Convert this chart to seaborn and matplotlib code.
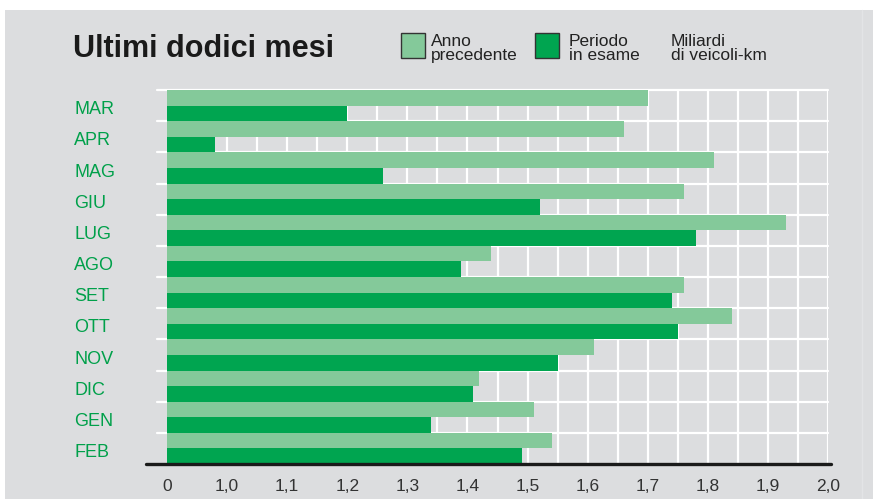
import numpy as np
import pandas as pd
import seaborn as sns
import matplotlib.pyplot as plt
from matplotlib.patches import Rectangle
from matplotlib.lines import Line2D
import matplotlib.transforms as mtransforms

# data (miliardi di veicoli-km)
months = ["MAR", "APR", "MAG", "GIU", "LUG", "AGO", "SET", "OTT", "NOV", "DIC", "GEN", "FEB"]
anno_precedente = [1.70, 1.66, 1.81, 1.76, 1.93, 1.44, 1.76, 1.84, 1.61, 1.42, 1.51, 1.54]
periodo_esame = [1.20, 0.98, 1.26, 1.52, 1.78, 1.39, 1.74, 1.75, 1.55, 1.41, 1.34, 1.49]
series_names = ["Anno precedente", "Periodo in esame"]
x_ticks = [0.9, 1.0, 1.1, 1.2, 1.3, 1.4, 1.5, 1.6, 1.7, 1.8, 1.9, 2.0]
x_labels = ["0", "1,0", "1,1", "1,2", "1,3", "1,4", "1,5", "1,6", "1,7", "1,8", "1,9", "2,0"]

light = "#84c99a"
dark = "#00a550"
bg = "#dcdddf"
month_col = "#00a04a"

df = pd.DataFrame({
    "mese": months * 2,
    "valore": anno_precedente + periodo_esame,
    "serie": [series_names[0]] * 12 + [series_names[1]] * 12,
})

sns.set_theme(style="white")
plt.rcParams["font.family"] = ["Liberation Sans", "DejaVu Sans"]

fig = plt.figure(figsize=(8.73, 4.99), dpi=100)
fig.patch.set_facecolor("white")
# grey panel behind everything (white strip at top/left like the scan)
fig.patches.append(Rectangle((5 / 873, 0), 1, 1 - 10 / 499, transform=fig.transFigure,
                             facecolor=bg, edgecolor="none", zorder=-10))
fig.add_artist(Line2D([862 / 873] * 2, [0, 1 - 10 / 499], transform=fig.transFigure,
                      color="#e3e4e6", lw=1.0))

ax = fig.add_axes([167 / 873, 1 - 464 / 499, (828 - 167) / 873, (464 - 90) / 499])
ax.set_facecolor(bg)

sns.barplot(data=df, y="mese", x="valore", hue="serie", order=months,
            hue_order=series_names, palette=[light, dark], orient="h",
            width=1.0, gap=0, saturation=1, linewidth=0, legend=False, ax=ax, zorder=2)

ax.set_xlim(0.9, 2.0)
ax.set_ylim(11.5, -0.5)

# vertical grid every 0.05
for gx in np.arange(0.95, 2.001, 0.05):
    ax.axvline(gx, color="white", lw=1.6, zorder=1)
# horizontal separators between months, with little ticks poking out left
bounds = np.arange(-0.5, 11.0, 1.0)
for by in bounds:
    ax.plot([-10 / 661, 1], [1 - (by + 0.5) / 12] * 2, transform=ax.transAxes,
            color="white", lw=1.6, clip_on=False, zorder=1)
ax.axvline(0.9, color="white", lw=1.6, zorder=1)

for s in ax.spines.values():
    s.set_visible(False)

# black baseline
ax.add_line(Line2D([-21 / 661, 1.004], [0, 0], transform=ax.transAxes, color="#1a1a1a",
                   lw=2.4, clip_on=False, zorder=5))

ax.set_xticks(x_ticks)
ax.set_xticklabels(x_labels, fontsize=12.5, color="#333333")
ax.tick_params(axis="x", length=0, pad=11)
ax.set_yticks([])
ax.set_xlabel("")
ax.set_ylabel("")

# month labels
trans = mtransforms.blended_transform_factory(fig.transFigure, ax.transData)
for i, m in enumerate(months):
    ax.text(74 / 873, i + 0.28, m, transform=trans, ha="left", va="baseline",
            fontsize=13, color=month_col)

# title and legend
fig.text(73 / 873, 1 - 57 / 499, "Ultimi dodici mesi", fontsize=22, fontweight="bold",
         color="#1a1a1a", ha="left", va="baseline")
for x0, c in [(401, light), (535, dark)]:
    fig.patches.append(Rectangle((x0 / 873, 1 - 58 / 499), 24 / 873, 25 / 499,
                                 transform=fig.transFigure, facecolor=c,
                                 edgecolor="#333333", lw=1.0))
for x0, txt in [(431, "Anno\nprecedente"), (569, "Periodo\nin esame"), (671, "Miliardi\ndi veicoli-km")]:
    fig.text(x0 / 873, 1 - 48.5 / 499, txt, fontsize=12.5, color="#222222",
             ha="left", va="center", linespacing=0.85)

fig.savefig("out.png", dpi=100, facecolor=fig.get_facecolor())
